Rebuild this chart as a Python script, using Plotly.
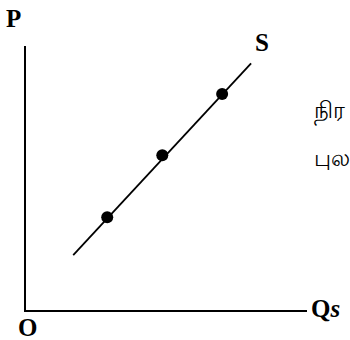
# %% Supply curve sketch (P vs Qs)

import plotly.graph_objects as go


# %% Data

# supply line end points (quantity, price)
supply_q = [1.68, 8.01]
supply_p = [2.08, 9.34]

# the three marked points on the curve
point_q = [2.89, 4.85, 6.98]
point_p = [3.51, 5.86, 8.18]

tamil_lines = ["நிர", "புல"]


# %% Figure

fig = go.Figure()
fig.add_trace(go.Scatter(
    x=supply_q,
    y=supply_p,
    mode="lines",
    line={"color": "black", "width": 1.8},
    hoverinfo="skip",
    cliponaxis=False,
))
fig.add_trace(go.Scatter(
    x=point_q,
    y=point_p,
    mode="markers",
    marker={"color": "black", "size": 12},
    cliponaxis=False,
))

# axis letters, placed relative to the axis domains
label_font = {"family": "Liberation Serif", "size": 25, "color": "black"}
labels = [
    ("<b>P</b>", -0.043, 1.105),
    ("<b>O</b>", 0.007, -0.068),
    ("<b>Q<i>s</i></b>", 1.065, 0.004),
    ("<b>S</b>", 0.840, 1.012),
]
for text, x, y in labels:
    fig.add_annotation(x=x, y=y, text=text, showarrow=False,
                       xref="x domain", yref="y domain",
                       xanchor="center", yanchor="middle", font=label_font)

# tamil words at the right edge, kept small enough to fit
for text, y in zip(tamil_lines, [0.760, 0.580]):
    fig.add_annotation(x=1.018, y=y, text=text, showarrow=False,
                       xref="x domain", yref="y domain",
                       xanchor="left", yanchor="middle",
                       font={"family": "Noto Sans", "size": 23, "color": "black"})

axis_style = {
    "showline": True,
    "linecolor": "black",
    "linewidth": 2,
    "showgrid": False,
    "zeroline": False,
    "showticklabels": False,
    "ticks": "",
    "fixedrange": True,
}
fig.update_xaxes(range=[0, 10], **axis_style)
fig.update_yaxes(range=[0, 10], **axis_style)

fig.update_layout(
    width=350,
    height=340,
    showlegend=False,
    plot_bgcolor="white",
    paper_bgcolor="white",
    margin={"l": 26, "r": 43, "t": 46, "b": 30},
)

# drop the default page margin so the figure fills the window
fig.write_html("out.html", config={"displayModeBar": False},
               post_script="document.body.style.margin = '0';")
